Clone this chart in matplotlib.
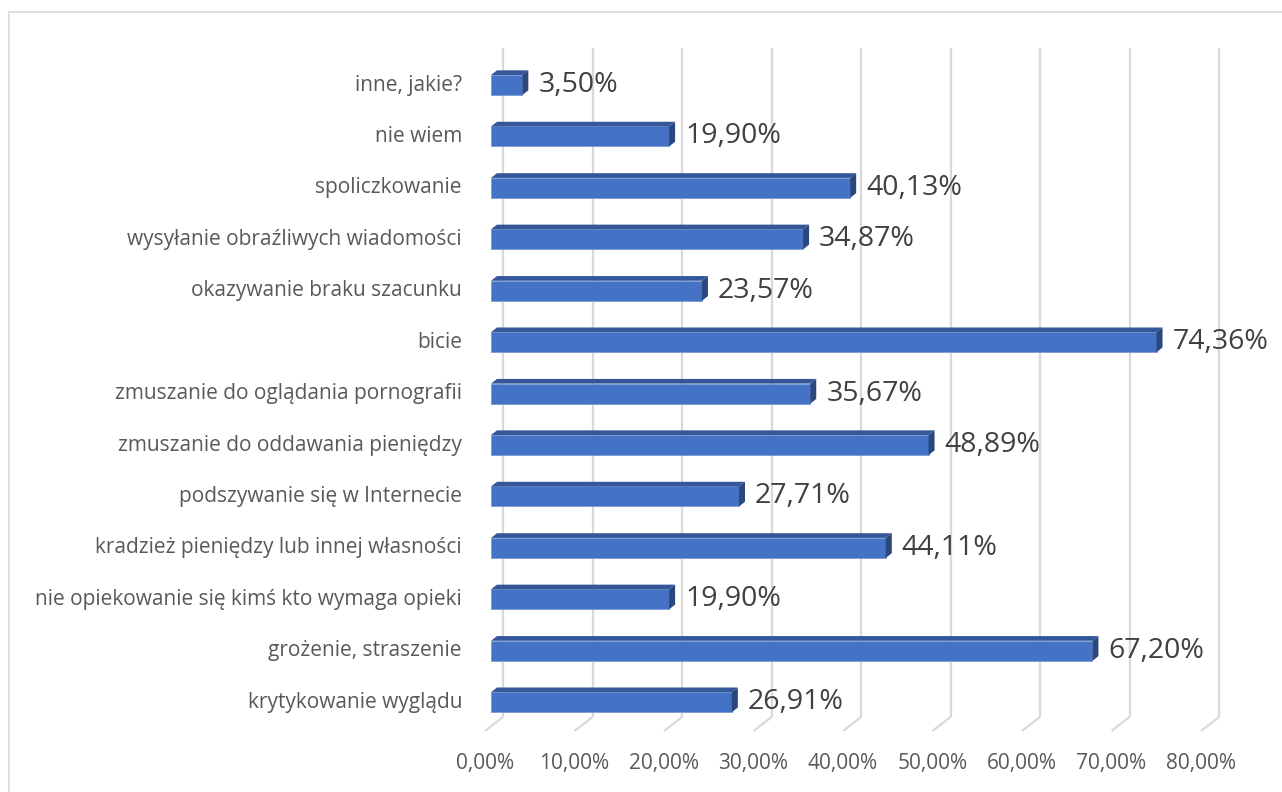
import matplotlib.pyplot as plt
from matplotlib.patches import Polygon, Rectangle
from matplotlib.transforms import ScaledTranslation

categories = [
    "inne, jakie?",
    "nie wiem",
    "spoliczkowanie",
    "wysyłanie obraźliwych wiadomości",
    "okazywanie braku szacunku",
    "bicie",
    "zmuszanie do oglądania pornografii",
    "zmuszanie do oddawania pieniędzy",
    "podszywanie się w Internecie",
    "kradzież pieniędzy lub innej własności",
    "nie opiekowanie się kimś kto wymaga opieki",
    "grożenie, straszenie",
    "krytykowanie wyglądu",
]
values = [3.50, 19.90, 40.13, 34.87, 23.57, 74.36, 35.67, 48.89, 27.71, 44.11, 19.90, 67.20, 26.91]
ticks = [0, 10, 20, 30, 40, 50, 60, 70, 80]

plt.rcParams['font.family'] = ['Open Sans', 'DejaVu Sans']

W, H = 1282, 792
fig = plt.figure(figsize=(W / 100, H / 100), dpi=100)

# chart frame
fig.patches.append(Rectangle((9 / W, -0.05), 1.0, (H - 12) / H + 0.05,
                             transform=fig.transFigure, fill=False,
                             edgecolor='#d9d9d9', linewidth=1.2))

ax_l, ax_r, ax_top, ax_bot = 491, 1207, 48, 731
ax = fig.add_axes([ax_l / W, (H - ax_bot) / H, (ax_r - ax_l) / W, (ax_bot - ax_top) / H])
xmax = 80
y0, y1 = -0.56, 12.72
ax.set_xlim(0, xmax)
ax.set_ylim(y0, y1)
ax.axis('off')

# pixel -> data helpers for the 3d look
px_x = xmax / (ax_r - ax_l)
px_y = (y1 - y0) / (ax_bot - ax_top)

def shift(dx, dy):
    return ax.transData + ScaledTranslation(dx / 100, dy / 100, fig.dpi_scale_trans)

grid_c = '#d9d9d9'
floor_y = y0 + 14 * px_y
for t in ticks:
    ax.plot([t + 12 * px_x, t + 12 * px_x], [floor_y, y1], color=grid_c, lw=1.6,
            solid_capstyle='butt', zorder=1, clip_on=False)
    ax.plot([t - 6 * px_x, t + 12 * px_x], [y0, floor_y], color=grid_c, lw=1.6,
            solid_capstyle='butt', zorder=1, clip_on=False)
    ax.text(t, y0, f"{t:.2f}%".replace('.', ','), transform=shift(-6, -32),
            ha='center', va='center', fontsize=15, color='#595959')

ys = [len(categories) - 1 - k for k in range(len(categories))]
h = 20 * px_y
dx, dy = 6 * px_x, 4.7 * px_y

ax.barh(ys, values, height=h, color='#4472C4', edgecolor='#7a9bd6', linewidth=0.6, zorder=3)
for y, v, name in zip(ys, values, categories):
    top = [(0, y + h / 2), (v, y + h / 2), (v + dx, y + h / 2 + dy), (dx, y + h / 2 + dy)]
    side = [(v, y - h / 2), (v, y + h / 2), (v + dx, y + h / 2 + dy), (v + dx, y - h / 2 + dy)]
    ax.add_patch(Polygon(top, closed=True, facecolor='#34579a', edgecolor='none', zorder=3))
    ax.add_patch(Polygon(side, closed=True, facecolor='#2a487e', edgecolor='none', zorder=3))
    ax.text(v, y, f"{v:.2f}%".replace('.', ','), transform=shift(16, 0),
            ha='left', va='center', fontsize=20.5, color='#404040', clip_on=False)
    ax.text(0, y, name, transform=shift(-29, 0), ha='right', va='center',
            fontsize=15, color='#595959')

fig.savefig('out.png', dpi=100)
